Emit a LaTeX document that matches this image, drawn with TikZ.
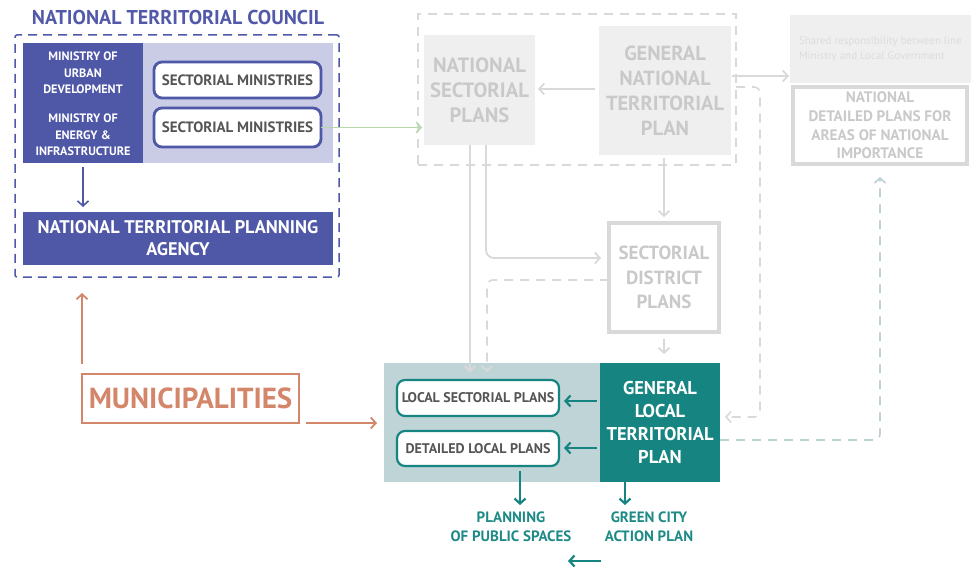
\documentclass[tikz,border=0pt]{standalone}
\usepackage{fontspec}
\setmainfont{PT Sans}
\usetikzlibrary{arrows.meta}
\definecolor{cblue}{HTML}{4F57A7}
\definecolor{ctitle}{HTML}{5259A9}
\definecolor{clav}{HTML}{C9CCE4}
\definecolor{cgfill}{HTML}{EFEFEF}
\definecolor{cgtext}{HTML}{C9C9C9}
\definecolor{cgline}{HTML}{D9D9D9}
\definecolor{cshared}{HTML}{DCDCDC}
\definecolor{cteal}{HTML}{168581}
\definecolor{ctealtext}{HTML}{1E8A86}
\definecolor{ctealbg}{HTML}{BFD4D7}
\definecolor{ctealdash}{HTML}{BCD3D6}
\definecolor{csalmon}{HTML}{D4866B}
\definecolor{cgreen}{HTML}{B7D7A9}
\definecolor{cdark}{HTML}{555555}
\newcommand{\fsz}[2]{\fontsize{#1}{#2}\selectfont}
\begin{document}
\begin{tikzpicture}[x=1pt,y=-1pt,
  plain/.style={rectangle, inner sep=0pt, outer sep=0pt, align=center},
  tip/.style={-{Straight Barb[length=5pt,width=11pt]}},
  bluearrow/.style={tip, draw=cblue, line width=1.6pt},
  grayarrow/.style={tip, draw=cgline, line width=1.8pt},
  graydash/.style={tip, draw=cgline, line width=1.6pt, dash pattern=on 9pt off 7pt, rounded corners=6pt},
  tealdash/.style={tip, draw=ctealdash, line width=1.6pt, dash pattern=on 9pt off 7pt, rounded corners=6pt},
  tealarrow/.style={tip, draw=cteal, line width=2.2pt},
  salmonarrow/.style={tip, draw=csalmon, line width=1.8pt},
  greenarrow/.style={tip, draw=cgreen, line width=1.4pt},
  mintext/.style={plain, text=white, font=\fsz{12.2}{16.5}\bfseries},
  smbox/.style={plain, draw=cblue, fill=white, line width=2.8pt, rounded corners=8pt, text=cdark, font=\fsz{15}{16}\bfseries},
  natbox/.style={plain, fill=cgfill, text=cgtext, font=\bfseries},
  localbox/.style={plain, draw=cteal, fill=white, line width=2.2pt, rounded corners=8pt, text=cdark, font=\fsz{14}{15}\bfseries},
  tealtext/.style={plain, text=ctealtext, font=\fsz{15}{19}\bfseries}
]
\useasboundingbox (0,0) rectangle (971,569);

% ---------- national territorial council ----------
\node[plain, text=ctitle, font=\fsz{20}{22}\bfseries] (ntc) at (178,18) {NATIONAL TERRITORIAL COUNCIL};
\node[plain, draw=cblue, line width=1.5pt, dash pattern=on 9pt off 6pt, rounded corners=2pt,
      minimum width=324, minimum height=242] (ntcbox) at (177,156) {};
\node[plain, fill=clav, minimum width=310, minimum height=120] (minbg) at (178,103) {};
\node[plain, fill=cblue, minimum width=120, minimum height=120] (minpanel) at (83,103) {};
\node[mintext] (mud) at (83,73) {MINISTRY OF\\URBAN\\DEVELOPMENT};
\node[mintext] (mei) at (83,135) {MINISTRY OF\\ENERGY \&\\INFRASTRUCTURE};
\node[smbox, minimum width=167, minimum height=36] (sm1) at (237.5,80) {SECTORIAL MINISTRIES};
\node[smbox, minimum width=167, minimum height=39] (sm2) at (237.5,127.5) {SECTORIAL MINISTRIES};
\node[plain, fill=cblue, text=white, font=\fsz{18.3}{22}\bfseries, minimum width=310, minimum height=53] (ntpa) at (178,238.5) {NATIONAL TERRITORIAL PLANNING\\AGENCY};

% ---------- national level plans ----------
\node[plain, draw=cgline, line width=1.5pt, dash pattern=on 9pt off 7pt, minimum width=318, minimum height=151] (natlevel) at (577,89.5) {};
\node[natbox, font=\fsz{20.7}{25}\bfseries, minimum width=111, minimum height=110] (nsp) at (479.5,90) {NATIONAL\\SECTORIAL\\PLANS};
\node[natbox, font=\fsz{20.4}{25}\bfseries, minimum width=132, minimum height=129] (gntp) at (665,90.5) {GENERAL\\NATIONAL\\TERRITORIAL\\PLAN};
\node[plain, fill=cgfill, minimum width=181, minimum height=68] (shared) at (880.5,49) {};
\node[plain, anchor=west, align=left, text=cshared, font=\fsz{11}{15}] (sharedtext) at (799,49.5) {Shared responsibility between line\\Ministry and Local Government};
\node[plain, draw=cgline, fill=white, line width=3.5pt, text=cgtext, font=\fsz{15.2}{18.7}\bfseries, minimum width=174, minimum height=77] (ndp) at (880,125.5) {NATIONAL\\DETAILED PLANS FOR\\AREAS OF NATIONAL\\IMPORTANCE};
\node[plain, draw=cgline, fill=white, line width=3.5pt, text=cgtext, font=\fsz{19}{24.5}\bfseries, minimum width=110, minimum height=109] (sdp) at (664,277.5) {SECTORIAL\\DISTRICT\\PLANS};

% ---------- local level ----------
\node[plain, fill=ctealbg, minimum width=216, minimum height=119] (lbg) at (492,422.5) {};
\node[plain, fill=cteal, text=white, font=\fsz{18.5}{23}\bfseries, minimum width=120, minimum height=119] (gltp) at (660,422.5) {GENERAL\\LOCAL\\TERRITORIAL\\PLAN};
\node[localbox, minimum width=162, minimum height=36] (lsp) at (478,398) {LOCAL SECTORIAL PLANS};
\node[localbox, minimum width=162, minimum height=35] (dlp) at (478,448.5) {DETAILED LOCAL PLANS};
\node[tealtext] (pps) at (511,527) {PLANNING\\OF PUBLIC SPACES};
\node[tealtext] (gcap) at (649,527) {GREEN CITY\\ACTION PLAN};

\node[plain, draw=csalmon, line width=2.6pt, text=csalmon, font=\fsz{29}{30}\bfseries, minimum width=217, minimum height=49] (muni) at (190.5,398.5) {MUNICIPALITIES};

\coordinate (loosestart) at (601,561);
\coordinate (looseend) at (568,561);

% ---------- connectors ----------
\draw[bluearrow] ([yshift=-4pt]minpanel.south) -- ([yshift=5pt]ntpa.north -| minpanel.south);
\draw[greenarrow] (sm2.east) -- ([xshift=-2pt]nsp.west |- sm2.east);
\draw[grayarrow, shorten <=4pt, shorten >=3pt] (gntp.west |- 0,89) -- (nsp.east |- 0,89);
\draw[grayarrow, shorten <=1pt, shorten >=1pt] (gntp.east |- 0,76) -- (shared.west |- 0,76);
\draw[grayarrow, shorten <=3pt, shorten >=6pt] (gntp.south -| 664,0) -- (sdp.north);
\draw[grayarrow, rounded corners=8pt, shorten >=8pt] (nsp.south -| 486,0) |- (sdp.west |- 0,258);
\draw[grayarrow, shorten >=-9pt] (nsp.south -| 470,0) -- (lbg.north -| 470,0);
\draw[graydash, shorten >=-9pt] (sdp.west |- 0,280) -| (lbg.north -| 487,0);
\draw[grayarrow, shorten <=7pt, shorten >=9pt] (sdp.south) -- (sdp.south |- gltp.north);
\draw[graydash, shorten >=5pt] (natlevel.east |- 0,87) -| (760,417) -- (gltp.east |- 0,417);
\draw[tealdash, shorten >=13pt] (gltp.east |- 0,440) -| (ndp.south -| 880,0);
\draw[tealarrow, shorten <=3pt, shorten >=5pt] (gltp.west |- 0,401) -- (lsp.east |- 0,401);
\draw[tealarrow, shorten <=3pt, shorten >=5pt] (gltp.west |- 0,448) -- (dlp.east |- 0,448);
\draw[tealarrow, shorten <=5pt, shorten >=7pt] (dlp.south -| 520,0) -- (pps.north -| 520,0);
\draw[tealarrow, shorten <=-12pt, shorten >=7pt] (gltp.south -| 625,0) -- (gcap.north -| 625,0);
\draw[tealarrow] (loosestart) -- (looseend);
\draw[salmonarrow, shorten <=10pt, shorten >=16pt] (muni.north -| 82,0) -- (ntcbox.south -| 82,0);
\draw[salmonarrow, shorten <=7pt, shorten >=7pt] (muni.east |- 0,423) -- (lbg.west |- 0,423);
\end{tikzpicture}
\end{document}
